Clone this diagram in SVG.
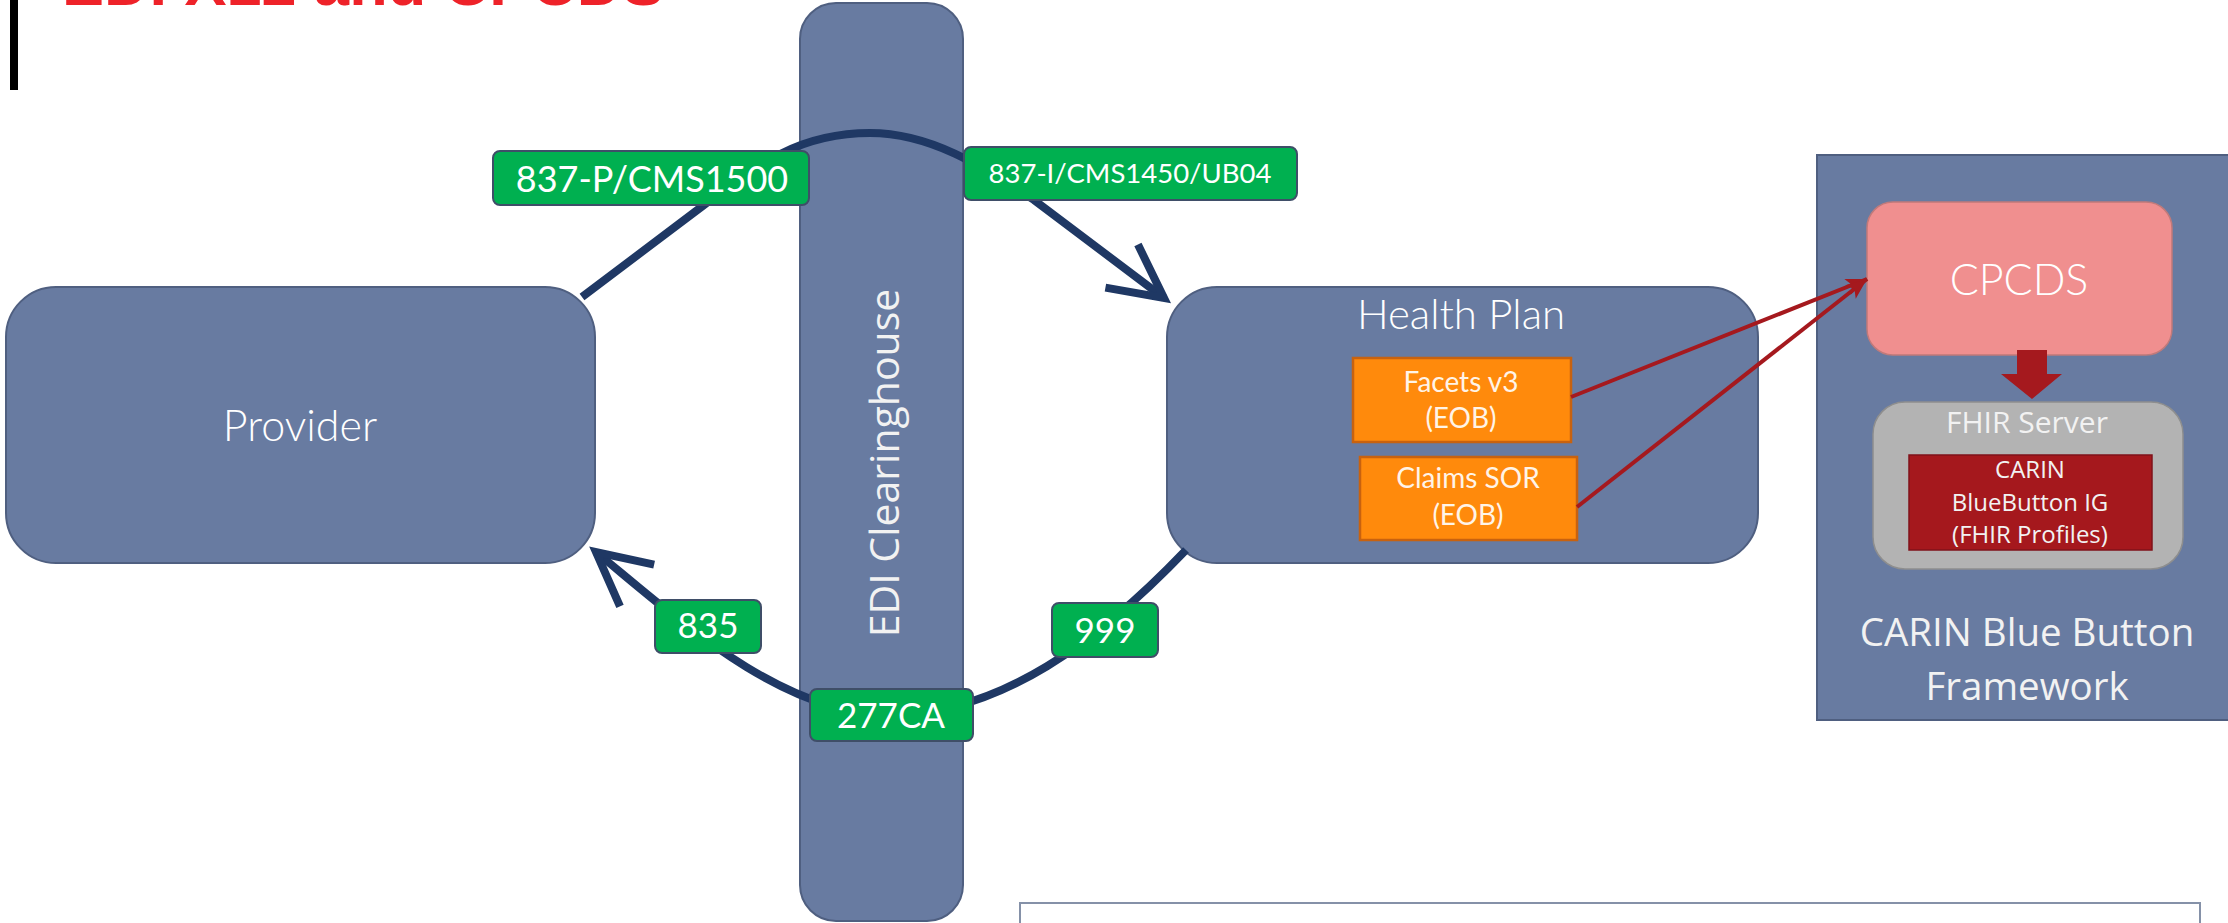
<svg xmlns="http://www.w3.org/2000/svg" width="2228" height="923" viewBox="0 0 2228 923">
  <style>
    .blue { fill: #687BA1; stroke: #4F5F80; stroke-width: 2; }
    .lbl { fill: #00B050; stroke: #3F4E68; stroke-width: 2; }
    .lbltxt { font-family: Lato, "Liberation Sans", sans-serif; fill: #FFFFFF; text-anchor: middle; }
    .big { font-family: Lato, "Liberation Sans", sans-serif; font-weight: 300; fill: #FFFFFF; text-anchor: middle; }
    .orange { fill: #FF8A0C; stroke: #C8620F; stroke-width: 2.5; }
    .otxt { font-family: Lato, "Liberation Sans", sans-serif; font-size: 28px; fill: #FFF4E8; text-anchor: middle; }
    .sans { font-family: "Open Sans", "Liberation Sans", sans-serif; fill: #F2F2F2; text-anchor: middle; }
    .navy { fill: none; stroke: #1F3864; stroke-width: 8; }
    .red { fill: none; stroke: #A5191E; stroke-width: 4; }
  </style>
  <defs>
    <marker id="openArrow" markerUnits="userSpaceOnUse" orient="auto" refX="0" refY="0" markerWidth="140" markerHeight="140" viewBox="-70 -70 140 140" overflow="visible">
      <path d="M-53,-27 L0,0 L-53,27" fill="none" stroke="#1F3864" stroke-width="8" stroke-linejoin="miter" stroke-miterlimit="10"/>
    </marker>
    <marker id="redArrow" markerUnits="userSpaceOnUse" orient="auto" refX="0" refY="0" markerWidth="60" markerHeight="60" viewBox="-30 -30 60 60" overflow="visible">
      <path d="M0,0 L-21,-8.5 L-16,0 L-21,8.5 Z" fill="#A5191E"/>
    </marker>
  </defs>

  <g id="title">
    <rect x="10" y="0" width="8" height="90" fill="#000000"/>
    <text x="62" y="5" font-family="'Liberation Sans', Arial, sans-serif" font-weight="bold" font-size="63" fill="#EE2229">EDI X12 and CPCDS</text>
  </g>

  <g id="edi-clearinghouse">
    <rect class="blue" x="800" y="3" width="163" height="918" rx="36"/>
    <text class="sans" font-size="41" transform="translate(899,463) rotate(-90)">EDI Clearinghouse</text>
  </g>

  <g id="provider">
    <rect class="blue" x="6" y="287" width="589" height="276" rx="50"/>
    <text class="big" x="300" y="441" font-size="43">Provider</text>
  </g>

  <g id="health-plan">
    <rect class="blue" x="1167" y="287" width="591" height="276" rx="50"/>
    <text class="big" x="1461" y="329" font-size="42">Health Plan</text>
  </g>

  <g id="facets">
    <rect class="orange" x="1353" y="358" width="218" height="84"/>
    <text class="otxt" x="1461" y="392">Facets v3</text>
    <text class="otxt" x="1461" y="428">(EOB)</text>
  </g>

  <g id="claims-sor">
    <rect class="orange" x="1360" y="457" width="217" height="83"/>
    <text class="otxt" x="1468" y="488">Claims SOR</text>
    <text class="otxt" x="1468" y="525">(EOB)</text>
  </g>

  <g id="carin-framework">
    <rect x="1817" y="155" width="430" height="565" fill="#687BA1" stroke="#4F5F80" stroke-width="2"/>
    <text class="sans" x="2027" y="646" font-size="38.5">CARIN Blue Button</text>
    <text class="sans" x="2027" y="700" font-size="38.5">Framework</text>
  </g>

  <g id="cpcds">
    <rect x="1867" y="202" width="305" height="153" rx="26" fill="#F08F8F" stroke="#C07A7A" stroke-width="1.5"/>
    <text class="big" x="2019" y="295" font-size="43">CPCDS</text>
  </g>

  <g id="fhir-server">
    <rect x="1873" y="402" width="310" height="167" rx="32" fill="#B3B3B3" stroke="#8E8E8E" stroke-width="1.5"/>
    <text class="sans" x="2027" y="433" font-size="30">FHIR Server</text>
  </g>

  <g id="carin-ig">
    <rect x="1909" y="455" width="243" height="95" fill="#A5181D" stroke="#80121A" stroke-width="1.5"/>
    <text class="sans" x="2030" y="478" font-size="24">CARIN</text>
    <text class="sans" x="2030" y="511" font-size="24">BlueButton IG</text>
    <text class="sans" x="2030" y="543" font-size="24">(FHIR Profiles)</text>
  </g>

  <g id="notes-box">
    <rect x="1020" y="903" width="1180" height="40" fill="#FFFFFF" stroke="#8591A8" stroke-width="2"/>
  </g>

  <g id="connectors">
    <path class="navy" d="M582,297 L704,205 C760,163 800,133 870,133 C930,133 980,165 1034,200 L1164,298" marker-end="url(#openArrow)"/>
    <path class="navy" d="M1186,550 C1100,640 1000,715 890,715 C780,715 672,614 596,552" marker-end="url(#openArrow)"/>
    <path class="red" d="M1571,397 L1867,279" marker-end="url(#redArrow)"/>
    <path class="red" d="M1577,507 L1867,279" marker-end="url(#redArrow)"/>
    <polygon points="2017,350 2047,350 2047,374 2062,374 2032,399 2001,374 2017,374" fill="#A5191E"/>
  </g>

  <g id="label-837p">
    <rect class="lbl" x="493" y="151" width="316" height="54" rx="7"/>
    <text class="lbltxt" x="652" y="192" font-size="36">837-P/CMS1500</text>
  </g>
  <g id="label-837i">
    <rect class="lbl" x="964" y="147" width="333" height="53" rx="7"/>
    <text class="lbltxt" x="1130" y="183" font-size="27.5">837-I/CMS1450/UB04</text>
  </g>
  <g id="label-835">
    <rect class="lbl" x="655" y="600" width="106" height="53" rx="7"/>
    <text class="lbltxt" x="708" y="638" font-size="35">835</text>
  </g>
  <g id="label-999">
    <rect class="lbl" x="1052" y="603" width="106" height="54" rx="7"/>
    <text class="lbltxt" x="1105" y="643" font-size="35">999</text>
  </g>
  <g id="label-277ca">
    <rect class="lbl" x="810" y="689" width="163" height="52" rx="7"/>
    <text class="lbltxt" x="891" y="728" font-size="35">277CA</text>
  </g>
</svg>
